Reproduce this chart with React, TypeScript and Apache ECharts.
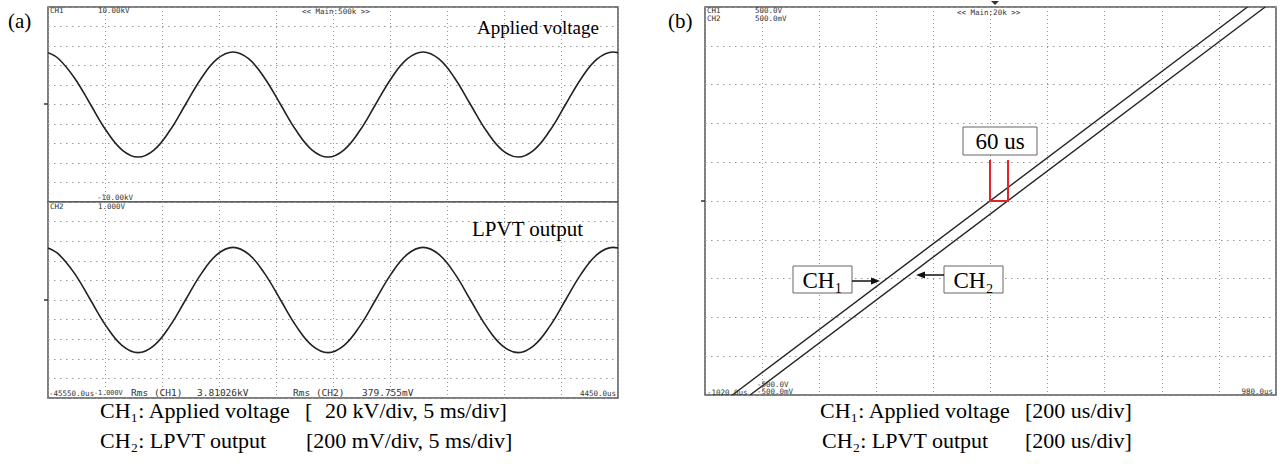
import React, { useEffect, useRef } from "react";
import * as echarts from "echarts";

// ---------- data ----------
// Panel (a): 50 ms sweep, -45550 us .. 4450 us (times in ms)
const TIME_A_MS = [
  -45.55, -44.6, -43.21, -41.82, -40.43, -39.04, -37.65, -36.26, -34.88, -33.49,
  -32.1, -30.71, -29.32, -27.93, -26.54, -25.15, -23.76, -22.38, -20.99, -19.6,
  -18.21, -16.82, -15.43, -14.04, -12.65, -11.26, -9.87, -8.49, -7.1, -5.71,
  -4.32, -2.93, -1.54, -0.15, 1.24, 2.63, 4.01, 4.45,
];
// CH1: applied voltage (kV)
const CH1_A_KV = [
  5.32, 4.67, 2.7, 0, -2.7, -4.67, -5.39, -4.67, -2.7, 0, 2.7, 4.67, 5.39,
  4.67, 2.7, 0, -2.7, -4.67, -5.39, -4.67, -2.7, 0, 2.7, 4.67, 5.39,
  4.67, 2.7, 0, -2.7, -4.67, -5.39, -4.67, -2.7, 0, 2.7, 4.67, 5.39, 5.32,
];
// CH2: LPVT output (V)
const CH2_A_V = [
  0.53, 0.465, 0.269, 0, -0.269, -0.465, -0.537, -0.465, -0.269, 0, 0.269, 0.465, 0.537,
  0.465, 0.269, 0, -0.269, -0.465, -0.537, -0.465, -0.269, 0, 0.269, 0.465, 0.537,
  0.465, 0.269, 0, -0.269, -0.465, -0.537, -0.465, -0.269, 0, 0.269, 0.465, 0.537, 0.53,
];
// Panel (b): 2000 us sweep, -1020 us .. 980 us
const TIME_B_CH1_US = [-924, 880];
const CH1_B_V = [-500, 500];
const TIME_B_CH2_US = [-862, 942];
const CH2_B_MV = [-500, 500];

const A_TIME_RANGE = [-45.55, 4.45];
const A_CH1_RANGE = [-10, 10];
const A_CH2_RANGE = [-1, 1];
const B_TIME_RANGE = [-1020, 980];
const B_RANGE = [-500, 500];

const SERIF = '"Liberation Serif", "Times New Roman", serif';
const MONO = '"DejaVu Sans Mono", monospace';

function txt(text: string, x: number, y: number, size: number, family: string, align = "left", fill = "#000") {
  return {
    type: "text",
    x,
    y,
    silent: true,
    z: 10,
    style: {
      text,
      font: `${size}px ${family}`,
      fill,
      textAlign: align,
      textVerticalAlign: "middle",
      align,
      verticalAlign: "middle",
    },
  };
}
const scope = (text: string, x: number, y: number, align = "left", size = 7.5) =>
  txt(text, x, y, size, MONO, align, "#333");

function divX(gridIndex: number) {
  return {
    type: "value",
    gridIndex,
    min: 0,
    max: 10,
    interval: 1,
    axisLine: { show: false },
    axisTick: { show: false },
    axisLabel: { show: false },
    splitLine: { show: true, lineStyle: { color: "#999", width: 1, type: [1, 3] } },
  };
}
function divY(gridIndex: number) {
  return {
    type: "value",
    gridIndex,
    min: 0,
    max: 10,
    interval: 1,
    axisLine: { show: false },
    axisTick: { show: false },
    axisLabel: { show: false },
    splitLine: { show: true, lineStyle: { color: "#999", width: 1, type: [1.5, 4.5] } },
  };
}
function hidden(gridIndex: number, range: number[]) {
  return { type: "value", gridIndex, min: range[0], max: range[1], show: false };
}

const zip = (xs: number[], ys: number[]) => xs.map((x, i) => [x, ys[i]]);

export default function App() {
  const ref = useRef<HTMLDivElement>(null);
  useEffect(() => {
    if (!ref.current) return;
    const chart = echarts.init(ref.current, undefined, { renderer: "svg" });
    const gridStyle = { show: true, borderColor: "#555", borderWidth: 1.5, backgroundColor: "#fff" };
    const trace = (xi: number, yi: number, data: number[][], smooth: number | boolean, w = 1.6) => ({
      type: "line",
      xAxisIndex: xi,
      yAxisIndex: yi,
      data,
      smooth,
      symbol: "none",
      silent: true,
      lineStyle: { color: "#222", width: w },
    });

    const elements: any[] = [
      txt("(a)", 8, 21, 21, SERIF),
      txt("(b)", 668, 21, 21, SERIF),
      // panel (a) scope texts
      scope("CH1", 50, 10),
      scope("10.00kV", 98, 10),
      scope("<< Main:500k >>", 302, 11),
      scope("-10.00kV", 97, 197),
      scope("CH2", 50, 206),
      scope("1.000V", 98, 206),
      scope("-45550.0us", 49, 393),
      scope("-1.000V", 94, 393, "left", 6.8),
      txt("Rms (CH1)", 131, 392, 9.5, MONO, "left", "#333"),
      txt("3.81026kV", 197, 392, 9.5, MONO, "left", "#333"),
      txt("Rms (CH2)", 293, 392, 9.5, MONO, "left", "#333"),
      txt("379.755mV", 362, 392, 9.5, MONO, "left", "#333"),
      scope("4450.0us", 616, 393, "right"),
      txt("Applied voltage", 477, 27, 19, SERIF),
      txt("LPVT output", 472, 229, 21, SERIF),
      // panel (b) scope texts
      scope("CH1", 707, 10),
      scope("CH2", 707, 18),
      scope("500.0V", 755, 10),
      scope("500.0mV", 755, 18),
      scope("<< Main:20k >>", 957, 12),
      scope("-1020.0us", 707, 392),
      scope("-500.0V", 757, 384),
      scope("-500.0mV", 757, 391),
      scope("980.0us", 1273, 391, "right"),
      // small markers
      { type: "polygon", silent: true, z: 10, shape: { points: [[991, 1], [999, 1], [995, 5]] }, style: { fill: "#333" } },
      { type: "line", silent: true, z: 10, shape: { x1: 44, y1: 104, x2: 48, y2: 104 }, style: { stroke: "#333", lineWidth: 1.5 } },
      { type: "line", silent: true, z: 10, shape: { x1: 44, y1: 300, x2: 48, y2: 300 }, style: { stroke: "#333", lineWidth: 1.5 } },
      { type: "line", silent: true, z: 10, shape: { x1: 701, y1: 201, x2: 705, y2: 201 }, style: { stroke: "#333", lineWidth: 1.5 } },
      // 60 us annotation
      { type: "rect", silent: true, z: 10, shape: { x: 963, y: 127, width: 74, height: 28 }, style: { fill: "#fff", stroke: "#666", lineWidth: 1 } },
      txt("60 us", 1000, 141, 23, SERIF, "center"),
      {
        type: "polyline",
        silent: true,
        z: 11,
        shape: { points: [[990, 160], [990, 201], [1008, 201], [1008, 160]] },
        style: { stroke: "#e3232a", lineWidth: 2, fill: null },
      },
      // CH1 label + arrow
      { type: "rect", silent: true, z: 10, shape: { x: 793, y: 266, width: 59, height: 27 }, style: { fill: "#fff", stroke: "#666", lineWidth: 1 } },
      txt("CH₁", 822.5, 280, 23, SERIF, "center"),
      { type: "line", silent: true, z: 10, shape: { x1: 852, y1: 281, x2: 874, y2: 281 }, style: { stroke: "#111", lineWidth: 1.5 } },
      { type: "polygon", silent: true, z: 10, shape: { points: [[880, 281], [871, 277.5], [871, 284.5]] }, style: { fill: "#111" } },
      // CH2 label + arrow
      { type: "rect", silent: true, z: 10, shape: { x: 944, y: 266, width: 59, height: 27 }, style: { fill: "#fff", stroke: "#666", lineWidth: 1 } },
      txt("CH₂", 973.5, 280, 23, SERIF, "center"),
      { type: "line", silent: true, z: 10, shape: { x1: 944, y1: 275, x2: 922, y2: 275 }, style: { stroke: "#111", lineWidth: 1.5 } },
      { type: "polygon", silent: true, z: 10, shape: { points: [[916, 275], [925, 271.5], [925, 278.5]] }, style: { fill: "#111" } },
      // captions
      txt("CH₁: Applied voltage", 100, 410, 22, SERIF),
      txt("[", 305, 410, 22, SERIF),
      txt("20 kV/div, 5 ms/div]", 325, 410, 22, SERIF),
      txt("CH₂: LPVT output", 100, 440, 22, SERIF),
      txt("[200 mV/div, 5 ms/div]", 306, 440, 22, SERIF),
      txt("CH₁: Applied voltage", 820, 410, 22, SERIF),
      txt("[200 us/div]", 1025, 410, 22, SERIF),
      txt("CH₂: LPVT output", 822, 440, 22, SERIF),
      txt("[200 us/div]", 1025, 440, 22, SERIF),
    ];

    chart.setOption({
      animation: false,
      backgroundColor: "#fff",
      grid: [
        { left: 48, top: 7, width: 570, height: 195, ...gridStyle },
        { left: 48, top: 202, width: 570, height: 196, ...gridStyle },
        { left: 705, top: 7, width: 571, height: 388, ...gridStyle },
      ],
      xAxis: [
        divX(0),
        hidden(0, A_TIME_RANGE),
        divX(1),
        hidden(1, A_TIME_RANGE),
        divX(2),
        hidden(2, B_TIME_RANGE),
      ],
      yAxis: [
        divY(0),
        hidden(0, A_CH1_RANGE),
        divY(1),
        hidden(1, A_CH2_RANGE),
        divY(2),
        hidden(2, B_RANGE),
        hidden(2, B_RANGE),
      ],
      series: [
        trace(1, 1, zip(TIME_A_MS, CH1_A_KV), 0.4),
        trace(3, 3, zip(TIME_A_MS, CH2_A_V), 0.4),
        trace(5, 5, zip(TIME_B_CH1_US, CH1_B_V), false, 1.4),
        trace(5, 6, zip(TIME_B_CH2_US, CH2_B_MV), false, 1.4),
      ],
      graphic: { elements },
    });
    return () => chart.dispose();
  }, []);
  return (
    <div
      ref={ref}
      style={{ position: "absolute", left: 0, top: 0, width: 1280, height: 465, background: "#fff" }}
    />
  );
}
